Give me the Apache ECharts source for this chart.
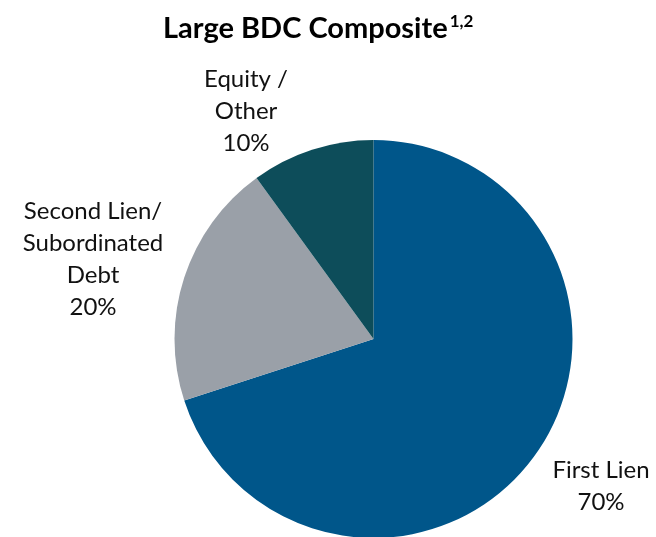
<!DOCTYPE html>
<html>
<head>
<meta charset="utf-8">
<script src="https://cdn.jsdelivr.net/npm/echarts@6/dist/echarts.min.js"></script>
<style>
  html, body { margin: 0; padding: 0; background: #fff; }
  #chart { width: 656px; height: 537px; }
</style>
</head>
<body>
<div id="chart"></div>
<script>
// Portfolio mix of the large BDC composite
const categories = ['First Lien', 'Second Lien/\nSubordinated\nDebt', 'Equity /\nOther'];
const shares = [70, 20, 10];
const sliceColors = ['#00568A', '#9AA0A8', '#0D4D5A'];

// label block centres, one per slice
const labelSpots = [[601, 486], [93, 259], [246, 111]];

const chart = echarts.init(document.getElementById('chart'), null, { renderer: 'canvas' });

chart.setOption({
  animation: false,
  title: {
    text: '{main|Large BDC Composite}{sup|1,2}',
    left: 158,
    top: 8,
    textStyle: {
      rich: {
        main: { fontFamily: 'Lato', fontWeight: 'bold', fontSize: 29, color: '#000' },
        sup: { fontFamily: 'Lato', fontWeight: 'bold', fontSize: 17, color: '#000', verticalAlign: 'top', padding: [0, 0, 14, 2] }
      }
    }
  },
  series: [{
    type: 'pie',
    center: [373.5, 339],
    radius: 199,
    startAngle: 90,
    clockwise: true,
    silent: true,
    data: categories.map((name, i) => ({
      name: name,
      value: shares[i],
      itemStyle: { color: sliceColors[i] }
    })),
    label: {
      show: true,
      position: 'outside',
      formatter: p => p.name + '\n' + p.value + '%',
      fontFamily: 'Lato',
      fontSize: 24,
      lineHeight: 32,
      color: '#111',
      align: 'center',
      overflow: 'none',
      width: 220
    },
    labelLine: { show: false },
    labelLayout: function (params) {
      const spot = labelSpots[params.dataIndex];
      return { x: spot[0], y: spot[1], align: 'center', verticalAlign: 'middle' };
    }
  }]
});
</script>
</body>
</html>
